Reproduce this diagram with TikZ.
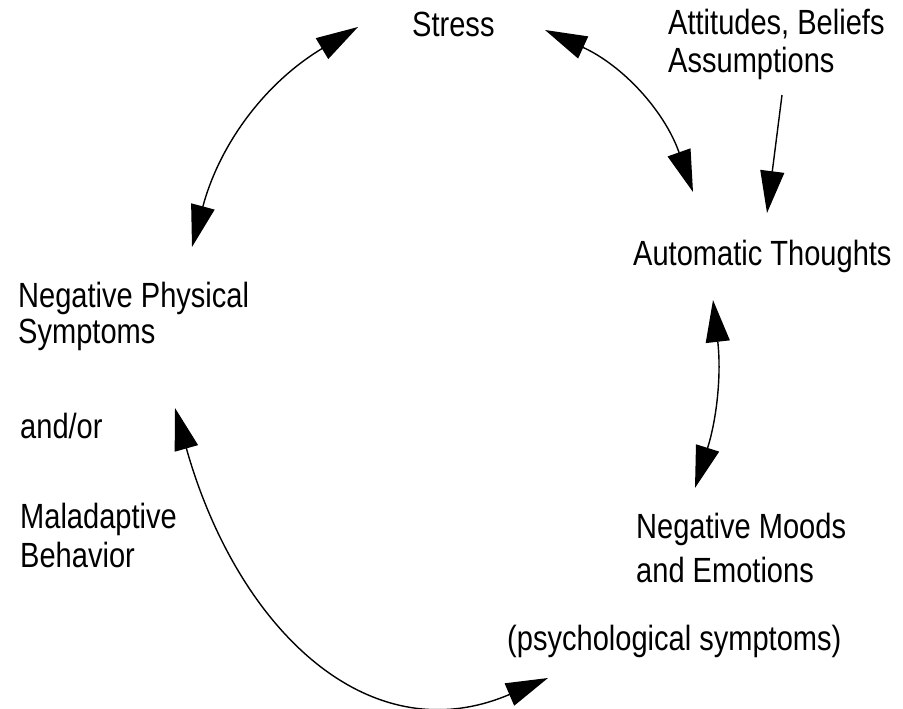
\documentclass[tikz,border=0pt]{standalone}
\usepackage{fontspec}
\setmainfont{Liberation Sans}[FakeStretch=0.83]
\usetikzlibrary{arrows.meta}

\tikzset{
  lbl/.style={inner sep=0pt, anchor=base west, align=left, font=\fontsize{35}{#1}\selectfont},
  lbl/.default=38,
  link/.style={line width=1.4pt, {Triangle[length=42pt,width=24pt]}-{Triangle[length=42pt,width=24pt]}},
  feed/.style={line width=1.4pt, -{Triangle[length=42pt,width=24pt]}}
}

\begin{document}
\begin{tikzpicture}[x=1pt, y=-1pt]
    \useasboundingbox (0,0) rectangle (903,709);

    % labels, placed at the baseline of their last line
    \node[lbl] (stress) at (412,37) {Stress};
    \node[lbl=38] (beliefs) at (668,73) {Attitudes, Beliefs\\Assumptions};
    \node[lbl] (thoughts) at (633,265) {Automatic Thoughts};
    \node[lbl=36] (physical) at (18,343) {Negative Physical\\Symptoms};
    \node[lbl] (andor) at (20,438) {and/or};
    \node[lbl=39] (behavior) at (20,567) {Maladaptive\\Behavior};
    \node[lbl=44] (moods) at (636,582) {Negative Moods\\and Emotions};
    \node[lbl] (psych) at (507,650) {(psychological symptoms)};

    % arrow ends
    \coordinate (phys-top) at (192,247);
    \coordinate (stress-left) at (358,27);
    \coordinate (stress-right) at (545,30);
    \coordinate (thoughts-top) at (693,192);
    \coordinate (beliefs-bot) at (782,95);
    \coordinate (thoughts-in) at (767,213);
    \coordinate (thoughts-bot) at (713,300);
    \coordinate (moods-top) at (695,488);
    \coordinate (phys-bot) at (175,408);
    \coordinate (psych-left) at (548,678);

    \draw[link] (phys-top) to[bend left=22] (stress-left);
    \draw[link] (stress-right) to[bend left=23] (thoughts-top);
    \draw[feed] (beliefs-bot) -- (thoughts-in);
    \draw[link] (thoughts-bot) to[bend left=12] (moods-top);
    \draw[link] (phys-bot) .. controls (237,628) and (368,755) .. (psych-left);
\end{tikzpicture}
\end{document}
